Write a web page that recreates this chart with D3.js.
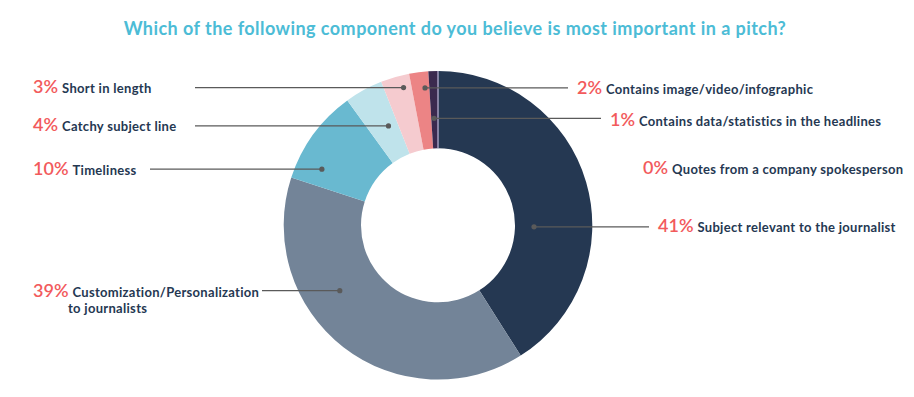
<!DOCTYPE html>
<html>
<head>
<meta charset="utf-8">
<script src="https://cdnjs.cloudflare.com/ajax/libs/d3/7.8.5/d3.min.js"></script>
<style>
  body { margin: 0; background: #fff; }
  svg { display: block; font-family: Lato, "Open Sans", sans-serif; }
</style>
</head>
<body>
<div id="chart"></div>
<script>
// data (clockwise from 12 o'clock)
var categories = ["Subject relevant to the journalist",
                  "Customization/Personalization|to journalists",
                  "Timeliness",
                  "Catchy subject line",
                  "Short in length",
                  "Contains image/video/infographic",
                  "Contains data/statistics in the headlines",
                  "Quotes from a company spokesperson"];
var values = [41, 39, 10, 4, 3, 2, 1, 0];
var colors = ["#253852", "#738498", "#69b9d0", "#bfe3eb", "#f5cbcf", "#ec8485", "#3b2a4f", "#a49dc0"];
var title = "Which of the following component do you believe is most important in a pitch?";

// annotation layout: where the dot sits inside its slice (fraction of the arc, radius),
// where the leader line stops and where the label goes
var notes = [
  {f: 0.616, r: 96,  lineTo: 649, lx: 658, ly: 232},
  {f: 0.632, r: 118, lineTo: 262, lx: 33,  ly: 296.5, lx2: 68},
  {f: 0.217, r: 129, lineTo: 150, lx: 33,  ly: 175},
  {f: 0.66,  r: 111, lineTo: 195, lx: 33,  ly: 131},
  {f: 0.70,  r: 142, lineTo: 195, lx: 33,  ly: 93},
  {f: 0.75,  r: 138, lineTo: 568, lx: 577, ly: 94},
  {f: 0.42,  r: 107, lineTo: 601, lx: 610, ly: 126},
  {f: null,  r: 0,   lineTo: null, lx: 643, ly: 174}
];

var width = 914, height = 397;
var cx = 438, cy = 225.3, outerR = 154.3, innerR = 77;

var svg = d3.select("#chart").append("svg")
    .attr("width", width)
    .attr("height", height);

svg.append("text")
    .attr("x", 455).attr("y", 35)
    .attr("text-anchor", "middle")
    .attr("font-size", "18px")
    .attr("letter-spacing", "0.45px")
    .attr("font-weight", "bold")
    .attr("fill", "#4cbcd6")
    .text(title);

var pie = d3.pie().sort(null).value(function(d) { return d; });
var arcs = pie(values);
var arc = d3.arc().innerRadius(innerR).outerRadius(outerR);

var g = svg.append("g").attr("transform", "translate(" + cx + "," + cy + ")");

g.selectAll(".slice")
    .data(arcs)
  .enter().append("path")
    .attr("class", "slice")
    .attr("d", arc)
    .attr("fill", function(d, i) { return colors[i]; })
    // the 0% slice has no width, give it a hairline so it still shows
    .attr("stroke", function(d, i) { return values[i] === 0 ? colors[i] : "none"; })
    .attr("stroke-width", 1.5);

// leader lines + dots
var lines = svg.append("g").attr("class", "leaders");
arcs.forEach(function(d, i) {
  var n = notes[i];
  if (n.f === null) return;
  var a = d.startAngle + n.f * (d.endAngle - d.startAngle);
  var px = cx + n.r * Math.sin(a), py = cy - n.r * Math.cos(a);
  lines.append("line")
      .attr("x1", px).attr("y1", py)
      .attr("x2", n.lineTo).attr("y2", py)
      .attr("stroke", "#5a5a5a")
      .attr("stroke-width", 1.3);
  lines.append("circle")
      .attr("cx", px).attr("cy", py)
      .attr("r", 2.6)
      .attr("fill", "#5a5a5a");
});

// labels
var labels = svg.append("g").attr("class", "labels");
categories.forEach(function(c, i) {
  var n = notes[i];
  var parts = c.split("|");
  var t = labels.append("text")
      .attr("x", n.lx).attr("y", n.ly);
  t.append("tspan")
      .attr("font-size", "18px")
      .attr("font-weight", 600)
      .attr("fill", "#f25a5c")
      .text(values[i] + "%");
  t.append("tspan")
      .attr("dx", 4)
      .attr("font-size", "13px")
      .attr("letter-spacing", "0.3px")
      .attr("font-weight", "bold")
      .attr("fill", "#253852")
      .text(parts[0]);
  if (parts[1]) {
    labels.append("text")
        .attr("x", n.lx2).attr("y", n.ly + 16)
        .attr("font-size", "13px")
        .attr("letter-spacing", "0.3px")
        .attr("font-weight", "bold")
        .attr("fill", "#253852")
        .text(parts[1]);
  }
});
</script>
</body>
</html>
